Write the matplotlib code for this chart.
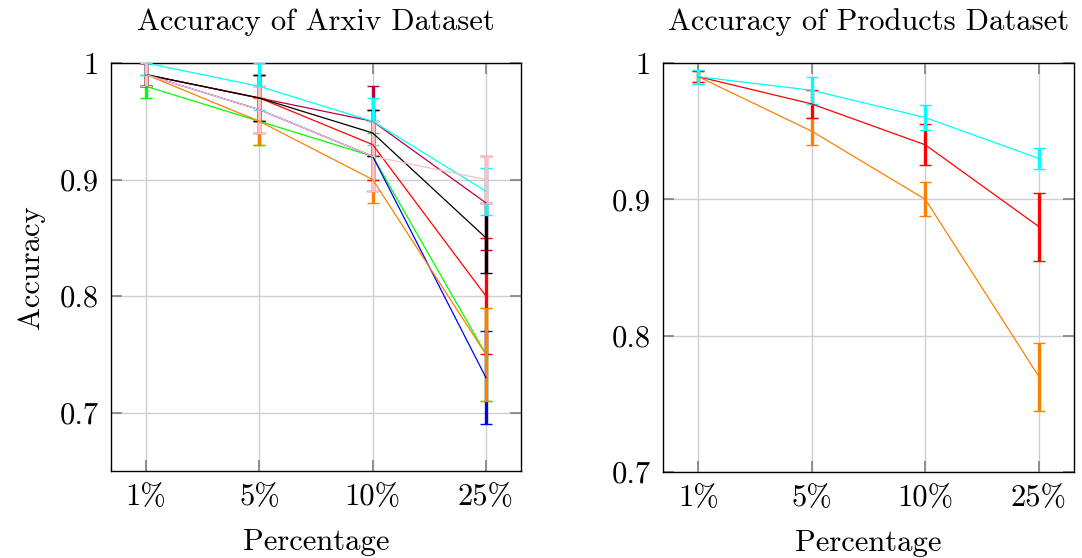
import matplotlib
matplotlib.use("Agg")
import matplotlib.pyplot as plt

plt.rcParams["font.family"] = ["cmr10", "DejaVu Serif"]
plt.rcParams["mathtext.fontset"] = "cm"
plt.rcParams["axes.unicode_minus"] = False

# x categories
percentages = ["1%", "5%", "10%", "25%"]

# Arxiv dataset series (mean accuracy and error)
arxiv_green = [0.98, 0.95, 0.92, 0.75]
arxiv_green_err = [0.01, 0.02, 0.02, 0.04]
arxiv_red = [0.99, 0.97, 0.93, 0.80]
arxiv_red_err = [0.01, 0.02, 0.03, 0.05]
arxiv_purple = [0.99, 0.97, 0.95, 0.88]
arxiv_purple_err = [0.01, 0.02, 0.03, 0.04]
arxiv_blue = [0.99, 0.96, 0.92, 0.73]
arxiv_blue_err = [0.01, 0.02, 0.03, 0.04]
arxiv_orange = [0.99, 0.95, 0.90, 0.75]
arxiv_orange_err = [0.01, 0.02, 0.02, 0.04]
arxiv_black = [0.99, 0.97, 0.94, 0.85]
arxiv_black_err = [0.01, 0.02, 0.02, 0.03]
arxiv_cyan = [1.00, 0.98, 0.95, 0.89]
arxiv_cyan_err = [0.01, 0.02, 0.02, 0.02]
arxiv_pink = [0.99, 0.96, 0.92, 0.90]
arxiv_pink_err = [0.01, 0.02, 0.03, 0.02]

# Products dataset series
products_orange = [0.99, 0.95, 0.90, 0.77]
products_orange_err = [0.004, 0.01, 0.0125, 0.025]
products_red = [0.99, 0.97, 0.94, 0.88]
products_red_err = [0.004, 0.01, 0.015, 0.025]
products_cyan = [0.99, 0.98, 0.96, 0.93]
products_cyan_err = [0.005, 0.01, 0.009, 0.008]

# y tick labels
arxiv_yticks = [0.7, 0.8, 0.9, 1.0]
arxiv_ylabels = ["0.7", "0.8", "0.9", "1"]
products_yticks = [0.7, 0.8, 0.9, 1.0]
products_ylabels = ["0.7", "0.8", "0.9", "1"]

C_GREEN = (0, 1, 0)
C_RED = (1, 0, 0)
C_PURPLE = (0.75, 0, 0.25)
C_BLUE = (0, 0, 1)
C_ORANGE = (1, 0.5, 0)
C_BLACK = (0, 0, 0)
C_CYAN = (0, 1, 1)
C_PINK = (1, 0.75, 0.75)

FS = 22

fig = plt.figure(figsize=(10.82, 5.58), dpi=100)
ax1 = fig.add_axes([0.1026, 0.156, 0.379, 0.731])
ax2 = fig.add_axes([0.6128, 0.154, 0.3799, 0.733])

x = list(range(len(percentages)))


def draw(ax, y, err, color):
    ax.errorbar(x, y, yerr=err, color=color, lw=0.9, elinewidth=2.4,
                capsize=4.5, capthick=1.0, zorder=3)


arxiv_series = [
    (arxiv_green, arxiv_green_err, C_GREEN),
    (arxiv_red, arxiv_red_err, C_RED),
    (arxiv_purple, arxiv_purple_err, C_PURPLE),
    (arxiv_blue, arxiv_blue_err, C_BLUE),
    (arxiv_orange, arxiv_orange_err, C_ORANGE),
    (arxiv_black, arxiv_black_err, C_BLACK),
    (arxiv_cyan, arxiv_cyan_err, C_CYAN),
    (arxiv_pink, arxiv_pink_err, C_PINK),
]
for y, e, c in arxiv_series:
    draw(ax1, y, e, c)

products_series = [
    (products_orange, products_orange_err, C_ORANGE),
    (products_red, products_red_err, C_RED),
    (products_cyan, products_cyan_err, C_CYAN),
]
for y, e, c in products_series:
    draw(ax2, y, e, c)


def style(ax, yticks, ylabels, ylim, title):
    ax.set_xlim(-0.31, 3.31)
    ax.set_ylim(*ylim)
    ax.set_xticks(x)
    ax.set_xticklabels(percentages, fontsize=FS)
    ax.set_yticks(yticks)
    ax.set_yticklabels(ylabels, fontsize=FS)
    ax.grid(True, color="#cfcfcf", lw=1.0, zorder=0)
    ax.set_axisbelow(True)
    ax.tick_params(direction="in", length=8, width=1.2, color="#808080",
                   top=True, right=True, pad=9)
    for s in ax.spines.values():
        s.set_linewidth(1.0)
        s.set_color("black")
    ax.set_title(title, fontsize=FS, pad=24)
    ax.set_xlabel("Percentage", fontsize=FS, labelpad=13)


style(ax1, arxiv_yticks, arxiv_ylabels, (0.65, 1.0), "Accuracy of Arxiv Dataset")
style(ax2, products_yticks, products_ylabels, (0.7, 1.0), "Accuracy of Products Dataset")
ax1.set_ylabel("Accuracy", fontsize=FS, labelpad=10)

fig.savefig("out.png", dpi=100)
